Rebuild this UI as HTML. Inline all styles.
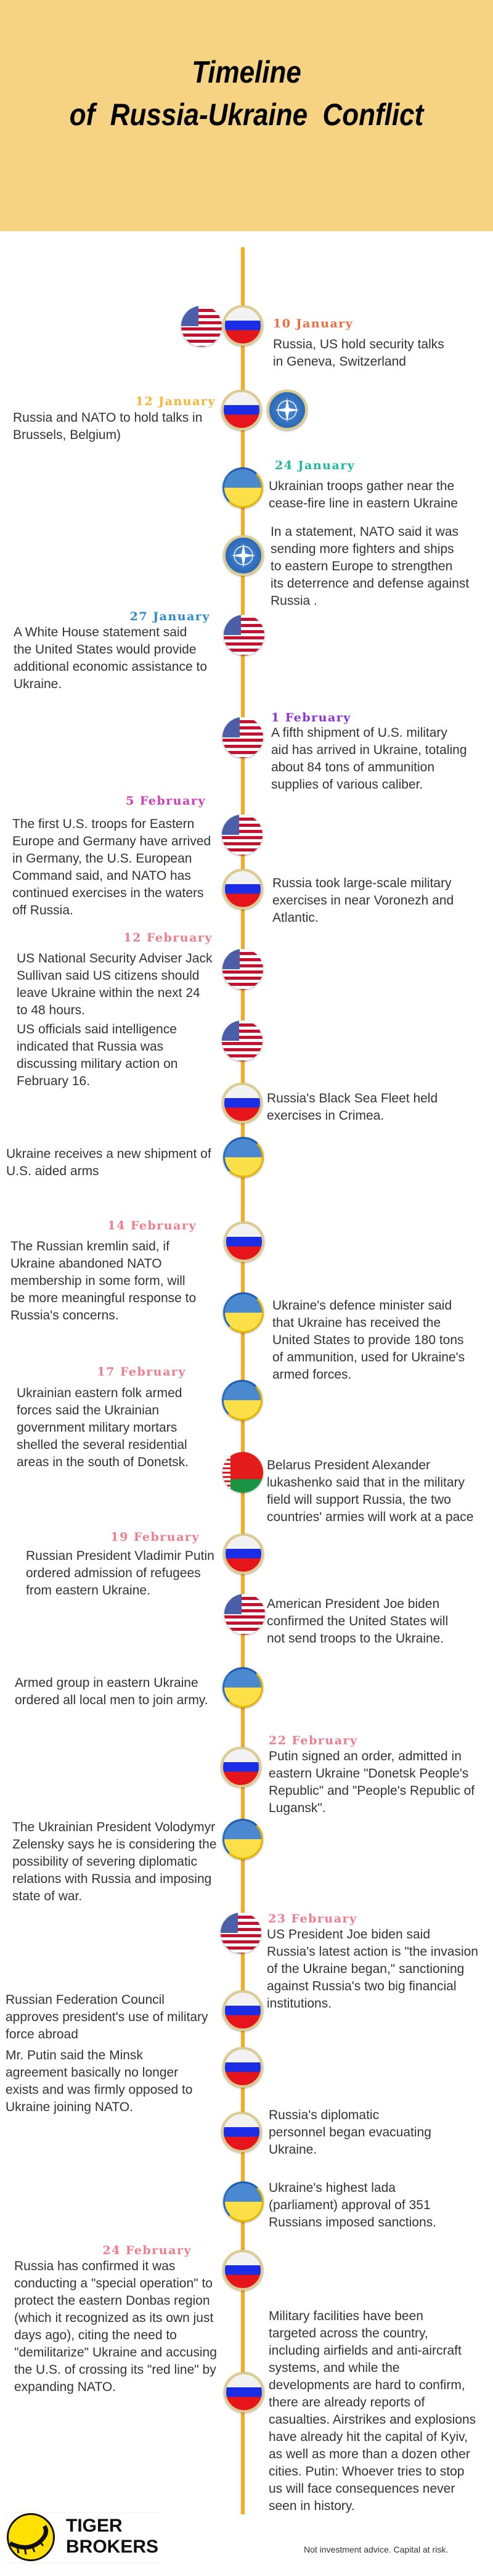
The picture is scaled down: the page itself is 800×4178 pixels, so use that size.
<!DOCTYPE html>
<html><head><meta charset="utf-8"><style>
*{margin:0;padding:0;box-sizing:border-box}
body{width:800px;height:4178px;position:relative;background:#fff;font-family:"Liberation Sans",sans-serif;overflow:hidden}
.hdr{position:absolute;left:0;top:0;width:800px;height:375px;background:#F6D382}
.t{position:absolute;left:0;width:800px;text-align:center;font-weight:bold;font-style:italic;font-size:50px;color:#000;transform:scaleX(0.88);word-spacing:0px;white-space:nowrap}
.line{position:absolute;left:391px;top:401px;width:6px;height:3677px;background:#F9AA1F}
.x{position:absolute;font-size:21px;line-height:28px;color:#333;white-space:nowrap;margin-top:-1px}
.d{position:absolute;font-family:"DejaVu Serif",serif;font-weight:bold;font-size:19px;line-height:24px;letter-spacing:1.5px;white-space:nowrap}
.r{text-align:right}
.f{position:absolute;width:66px;height:66px;margin:-33px 0 0 -33px;border-radius:50%;overflow:hidden;box-shadow:0 1px 3px rgba(0,0,0,.35)}
.ru{background:linear-gradient(#f2f2f2 0 36%,#1b2ee6 36% 63%,#e5151b 63%);border:4px solid #dccb8e}
.us{background:repeating-linear-gradient(#fff 0 5px,#c8102e 5px 10px)}
.us:before{content:"";position:absolute;left:0;top:0;width:42%;height:50%;background:#4a5fa8}
.ua{background:linear-gradient(#4a88cf 50%,#fde047 50%);border:3px solid #e3b400;border-top-color:#1d5cae;border-left-color:#2d6cbc}
.na{background:radial-gradient(circle,#4a8ad6,#1f5cab);border:4px solid #dccb8e}
.by{background:linear-gradient(#e31b1b 67%,#199443 67%)}
.by:before{content:"";position:absolute;left:0;top:0;width:13px;height:100%;background:repeating-linear-gradient(#fff 0 4px,#e31b1b 4px 7px)}
.c1{color:#F26A3C}.c2{color:#F9B233}.c3{color:#1DBB9C}.c4{color:#2E8BCB}.c5{color:#8B34D8}.c6{color:#D43AB2}.c7{color:#F07C8C}
</style></head><body>
<div class="hdr"></div>
<div class="t" style="top:88px">Timeline</div>
<div class="t" style="top:157px">of&nbsp; Russia-Ukraine&nbsp; Conflict</div>
<div class="line"></div>

<div class="f us" style="left:327px;top:529px"></div>
<div class="f ru" style="left:394px;top:528px"></div>
<div class="d c1" style="left:443px;top:513px">10 January</div>
<div class="x" style="left:443px;top:546px">Russia, US hold security talks<br>in Geneva, Switzerland</div>

<div class="d c2 r" style="right:450px;top:639px">12 January</div>
<div class="f ru" style="left:392px;top:665px"></div>
<div class="f na" style="left:466px;top:665px"><svg width="58" height="58" viewBox="0 0 58 58" style="position:absolute;left:0;top:0"><circle cx="29" cy="29" r="15" fill="none" stroke="#fff" stroke-width="1.5"/><polygon points="29,9 32,26 49,29 32,32 29,49 26,32 9,29 26,26" fill="#fff"/></svg></div>
<div class="x" style="left:21px;top:665px">Russia and NATO to hold talks in<br>Brussels, Belgium)</div>

<div class="d c3" style="left:446px;top:743px">24 January</div>
<div class="f ua" style="left:394px;top:791px"></div>
<div class="x" style="left:436px;top:776px">Ukrainian troops gather near the<br>cease-fire line in eastern Ukraine</div>
<div class="f na" style="left:395px;top:901px"><svg width="58" height="58" viewBox="0 0 58 58" style="position:absolute;left:0;top:0"><circle cx="29" cy="29" r="15" fill="none" stroke="#fff" stroke-width="1.5"/><polygon points="29,9 32,26 49,29 32,32 29,49 26,32 9,29 26,26" fill="#fff"/></svg></div>
<div class="x" style="left:439px;top:850px">In a statement, NATO said it was<br>sending more fighters and ships<br>to eastern Europe to strengthen<br>its deterrence and defense against<br>Russia .</div>

<div class="d c4 r" style="right:459px;top:988px">27 January</div>
<div class="f us" style="left:396px;top:1030px"></div>
<div class="x" style="left:22px;top:1013px">A White House statement said<br>the United States would provide<br>additional economic assistance to<br>Ukraine.</div>

<div class="d c5" style="left:440px;top:1152px">1 February</div>
<div class="f us" style="left:394px;top:1196px"></div>
<div class="x" style="left:440px;top:1176px">A fifth shipment of U.S. military<br>aid has arrived in Ukraine, totaling<br>about 84 tons of ammunition<br>supplies of various caliber.</div>

<div class="d c6 r" style="right:466px;top:1287px">5 February</div>
<div class="f us" style="left:393px;top:1354px"></div>
<div class="x" style="left:20px;top:1324px">The first U.S. troops for Eastern<br>Europe and Germany have arrived<br>in Germany, the U.S. European<br>Command said, and NATO has<br>continued exercises in the waters<br>off Russia.</div>
<div class="f ru" style="left:394px;top:1442px"></div>
<div class="x" style="left:442px;top:1420px">Russia took large-scale military<br>exercises in near Voronezh and<br>Atlantic.</div>

<div class="d c7 r" style="right:455px;top:1509px">12 February</div>
<div class="f us" style="left:394px;top:1572px"></div>
<div class="x" style="left:27px;top:1542px">US National Security Adviser Jack<br>Sullivan said US citizens should<br>leave Ukraine within the next 24<br>to 48 hours.</div>
<div class="f us" style="left:393px;top:1688px"></div>
<div class="x" style="left:27px;top:1657px">US officials said intelligence<br>indicated that Russia was<br>discussing military action on<br>February 16.</div>
<div class="f ru" style="left:393px;top:1789px"></div>
<div class="x" style="left:433px;top:1769px">Russia's Black Sea Fleet held<br>exercises in Crimea.</div>
<div class="f ua" style="left:395px;top:1877px"></div>
<div class="x" style="left:10px;top:1859px">Ukraine receives a new shipment of<br>U.S. aided arms</div>

<div class="d c7 r" style="right:481px;top:1976px">14 February</div>
<div class="f ru" style="left:396px;top:2014px"></div>
<div class="x" style="left:17px;top:2009px">The Russian kremlin said, if<br>Ukraine abandoned NATO<br>membership in some form, will<br>be more meaningful response to<br>Russia's concerns.</div>
<div class="f ua" style="left:395px;top:2129px"></div>
<div class="x" style="left:442px;top:2105px">Ukraine's defence minister said<br>that Ukraine has received the<br>United States to provide 180 tons<br>of ammunition, used for Ukraine's<br>armed forces.</div>

<div class="d c7 r" style="right:498px;top:2213px">17 February</div>
<div class="f ua" style="left:393px;top:2271px"></div>
<div class="x" style="left:27px;top:2247px">Ukrainian eastern folk armed<br>forces said the Ukrainian<br>government military mortars<br>shelled the several residential<br>areas in the south of Donetsk.</div>
<div class="f by" style="left:394px;top:2388px"></div>
<div class="x" style="left:433px;top:2364px">Belarus President Alexander<br>lukashenko said that in the military<br>field will support Russia, the two<br>countries' armies will work at a pace</div>

<div class="d c7 r" style="right:476px;top:2481px">19 February</div>
<div class="x" style="left:42px;top:2511px">Russian President Vladimir Putin<br>ordered admission of refugees<br>from eastern Ukraine.</div>
<div class="f ru" style="left:395px;top:2520px"></div>
<div class="f us" style="left:397px;top:2618px"></div>
<div class="x" style="left:433px;top:2589px">American President Joe biden<br>confirmed the United States will<br>not send troops to the Ukraine.</div>
<div class="f ua" style="left:394px;top:2737px"></div>
<div class="x" style="left:24px;top:2717px">Armed group in eastern Ukraine<br>ordered all local men to join army.</div>

<div class="d c7" style="left:436px;top:2811px">22 February</div>
<div class="f ru" style="left:391px;top:2866px"></div>
<div class="x" style="left:436px;top:2836px">Putin signed an order, admitted in<br>eastern Ukraine "Donetsk People's<br>Republic" and "People's Republic of<br>Lugansk".</div>
<div class="x" style="left:20px;top:2951px">The Ukrainian President Volodymyr<br>Zelensky says he is considering the<br>possibility of severing diplomatic<br>relations with Russia and imposing<br>state of war.</div>
<div class="f ua" style="left:394px;top:2983px"></div>

<div class="d c7" style="left:435px;top:3100px">23 February</div>
<div class="f us" style="left:391px;top:3135px"></div>
<div class="x" style="left:433px;top:3125px">US President Joe biden said<br>Russia's latest action is "the invasion<br>of the Ukraine began," sanctioning<br>against Russia's two big financial<br>institutions.</div>
<div class="f ru" style="left:394px;top:3261px"></div>
<div class="x" style="left:9px;top:3231px">Russian Federation Council<br>approves president's use of military<br>force abroad</div>
<div class="f ru" style="left:394px;top:3353px"></div>
<div class="x" style="left:9px;top:3321px">Mr. Putin said the Minsk<br>agreement basically no longer<br>exists and was firmly opposed to<br>Ukraine joining NATO.</div>
<div class="f ru" style="left:392px;top:3458px"></div>
<div class="x" style="left:436px;top:3418px">Russia's diplomatic<br>personnel began evacuating<br>Ukraine.</div>
<div class="f ua" style="left:395px;top:3571px"></div>
<div class="x" style="left:436px;top:3536px">Ukraine's highest lada<br>(parliament) approval of 351<br>Russians imposed sanctions.</div>

<div class="d c7 r" style="right:489px;top:3638px">24 February</div>
<div class="x" style="left:23px;top:3663px">Russia has confirmed it was<br>conducting a "special operation" to<br>protect the eastern Donbas region<br>(which it recognized as its own just<br>days ago), citing the need to<br>"demilitarize" Ukraine and accusing<br>the U.S. of crossing its "red line" by<br>expanding NATO.</div>
<div class="f ru" style="left:394px;top:3682px"></div>
<div class="f ru" style="left:396px;top:3880px"></div>
<div class="x" style="left:436px;top:3744px">Military facilities have been<br>targeted across the country,<br>including airfields and anti-aircraft<br>systems, and while the<br>developments are hard to confirm,<br>there are already reports of<br>casualties. Airstrikes and explosions<br>have already hit the capital of Kyiv,<br>as well as more than a dozen other<br>cities. Putin: Whoever tries to stop<br>us will face consequences never<br>seen in history.</div>

<div style="position:absolute;left:8px;top:4074px;width:252px;height:1px;background:#eee"></div>
<div style="position:absolute;left:8px;top:4156px;width:252px;height:1px;background:#eee"></div>
<div style="position:absolute;left:11px;top:4076px;width:78px;height:78px;border-radius:50%;background:#FFE000;border:3px solid #111;overflow:hidden">
<svg width="72" height="72" viewBox="0 0 72 72" style="position:absolute;left:0;top:0"><path d="M2 46 Q30 60 50 44 Q66 30 58 18" fill="none" stroke="#111" stroke-width="7"/><path d="M14 50 L16 62 M26 52 L28 64 M38 50 L42 60 M50 42 L56 50" stroke="#111" stroke-width="3"/></svg></div>
<div style="position:absolute;left:107px;top:4080px;font-size:30px;font-weight:bold;line-height:34px;color:#111">TIGER<br>BROKERS</div>
<div style="position:absolute;left:493px;top:4127px;font-size:14px;color:#333;white-space:nowrap">Not investment advice. Capital at risk.</div>
</body></html>
